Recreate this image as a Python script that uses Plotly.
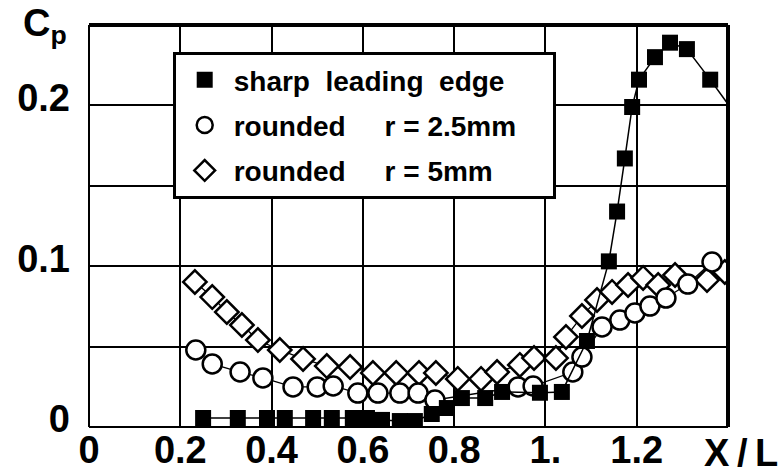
import plotly.graph_objects as go

# ---- data ----
sharp_x = [0.250, 0.326, 0.390, 0.429, 0.491, 0.532, 0.578, 0.609, 0.642, 0.681, 0.714,
           0.751, 0.784, 0.817, 0.868, 0.905, 0.988, 1.036, 1.091, 1.139, 1.157, 1.174,
           1.190, 1.205, 1.240, 1.273, 1.310, 1.361, 1.420]
sharp_y = [0.0056, 0.0056, 0.0056, 0.0056, 0.0056, 0.0056, 0.0056, 0.0056, 0.0044, 0.0037, 0.0037,
           0.0081, 0.0118, 0.0180, 0.0180, 0.0218, 0.0213, 0.0218, 0.0535, 0.1030, 0.1340, 0.1670,
           0.1990, 0.2160, 0.2300, 0.2390, 0.2350, 0.2160, 0.1930]

r25_x = [0.234, 0.270, 0.331, 0.381, 0.447, 0.500, 0.535, 0.589, 0.633, 0.681, 0.721, 0.758,
         0.940, 0.973, 1.060, 1.080, 1.124, 1.163, 1.196, 1.229, 1.264, 1.312, 1.365]
r25_y = [0.0479, 0.0392, 0.0342, 0.0305, 0.0249, 0.0249, 0.0255, 0.0211, 0.0211, 0.0211, 0.0211, 0.0168,
         0.0249, 0.0255, 0.0342, 0.0435, 0.0622, 0.0665, 0.0709, 0.0752, 0.0802, 0.0889, 0.1026]

r5_x = [0.232, 0.270, 0.302, 0.335, 0.370, 0.418, 0.469, 0.521, 0.572, 0.622, 0.673, 0.723,
        0.760, 0.808, 0.859, 0.894, 0.944, 0.975, 1.023, 1.045, 1.080, 1.113, 1.146, 1.181,
        1.214, 1.247, 1.284, 1.354, 1.393]
r5_y = [0.0902, 0.0808, 0.0715, 0.0634, 0.0541, 0.0479, 0.0423, 0.0379, 0.0373, 0.0336, 0.0336, 0.0336,
        0.0336, 0.0299, 0.0299, 0.0342, 0.0386, 0.0429, 0.0429, 0.0560, 0.0690, 0.0790, 0.0840, 0.0883,
        0.0927, 0.0883, 0.0945, 0.0914, 0.0964]

x_ticks = [0, 0.2, 0.4, 0.6, 0.8, 1.0, 1.2]
x_ticktext = ["0", "0.2", "0.4", "0.6", "0.8", "1.", "1.2"]
y_ticks = [0, 0.1, 0.2]
y_ticktext = ["0", "0.1", "0.2"]

NB = "\u00a0"
names = ["sharp" + NB * 2 + "leading" + NB * 2 + "edge",
         "rounded" + NB * 5 + "r = 2.5mm" + NB * 4,
         "rounded" + NB * 5 + "r = 5mm"]

FONT = "Liberation Sans, Arial, Helvetica, sans-serif"
fig = go.Figure()

# diamonds (drawn first)
fig.add_trace(go.Scatter(x=r5_x, y=r5_y, mode="lines", line=dict(color="black", width=1.3),
                         showlegend=False, hoverinfo="skip"))
fig.add_trace(go.Scatter(x=r5_x, y=r5_y, mode="markers", name=names[2], legendrank=3,
                         legendgroup="c",
                         marker=dict(symbol="diamond", size=18, color="white",
                                     line=dict(color="black", width=2.5))))
# circles
fig.add_trace(go.Scatter(x=r25_x, y=r25_y, mode="lines", line=dict(color="black", width=1.3),
                         showlegend=False, hoverinfo="skip"))
fig.add_trace(go.Scatter(x=r25_x, y=r25_y, mode="markers", name=names[1], legendrank=2,
                         legendgroup="b",
                         marker=dict(symbol="circle", size=19, color="white",
                                     line=dict(color="black", width=2.5))))
# squares
fig.add_trace(go.Scatter(x=sharp_x, y=sharp_y, mode="lines", line=dict(color="black", width=1.5),
                         showlegend=False, hoverinfo="skip"))
fig.add_trace(go.Scatter(x=sharp_x, y=sharp_y, mode="markers", name=names[0], legendrank=1,
                         legendgroup="a",
                         marker=dict(symbol="square", size=16, color="black",
                                     line=dict(color="black", width=0))))

fig.update_layout(
    width=782, height=475,
    margin=dict(l=89, r=54, t=25, b=48, autoexpand=False),
    paper_bgcolor="white", plot_bgcolor="white",
    font=dict(family=FONT, color="black"),
    xaxis=dict(range=[0, 1.4], tickvals=x_ticks, ticktext=x_ticktext, automargin=False,
               showgrid=True, gridcolor="black", gridwidth=1.5, zeroline=False,
               showline=False, ticks="", ticklabelstandoff=-3,
               tickfont=dict(size=38, family=FONT, weight="bold", color="black")),
    yaxis=dict(range=[0, 0.25], tickvals=y_ticks, ticktext=y_ticktext, automargin=False,
               showgrid=True, gridcolor="black", gridwidth=1.5, zeroline=False,
               minor=dict(dtick=0.05, tick0=0, showgrid=True, gridcolor="black",
                          gridwidth=1.5, ticks=""),
               showline=False, ticks="", ticklabelstandoff=18, ticklabelshift=-8,
               tickfont=dict(size=38, family=FONT, weight="bold", color="black")),
    legend=dict(x=0.131, y=0.933, xanchor="left", yanchor="top",
                bgcolor="white", bordercolor="black", borderwidth=3,
                font=dict(size=28, family=FONT, weight="bold", color="black"),
                traceorder="grouped", tracegroupgap=6, itemwidth=48),
    showlegend=True,
    shapes=[
        dict(type="line", xref="paper", yref="paper", x0=0, x1=1, y0=1, y1=1,
             line=dict(color="black", width=4)),
        dict(type="line", xref="paper", yref="paper", x0=1, x1=1, y0=0, y1=1,
             line=dict(color="black", width=4)),
        dict(type="line", xref="paper", yref="paper", x0=0, x1=0, y0=0, y1=1,
             line=dict(color="black", width=2)),
        dict(type="line", xref="paper", yref="paper", x0=0, x1=1, y0=0, y1=0,
             line=dict(color="black", width=2)),
    ],
    annotations=[
        dict(text="<b>C<sub>p</sub></b>", xref="paper", yref="paper", x=-0.107, y=1.062,
             xanchor="left", yanchor="top", showarrow=False,
             font=dict(size=38, family=FONT, color="black")),
        dict(text="<b>X\u2009/\u2009L</b>", xref="paper", yref="paper", x=1.081, y=-0.065,
             xanchor="right", yanchor="middle", showarrow=False,
             font=dict(size=38, family=FONT, color="black")),
    ],
)

fig.write_html("out.html")
